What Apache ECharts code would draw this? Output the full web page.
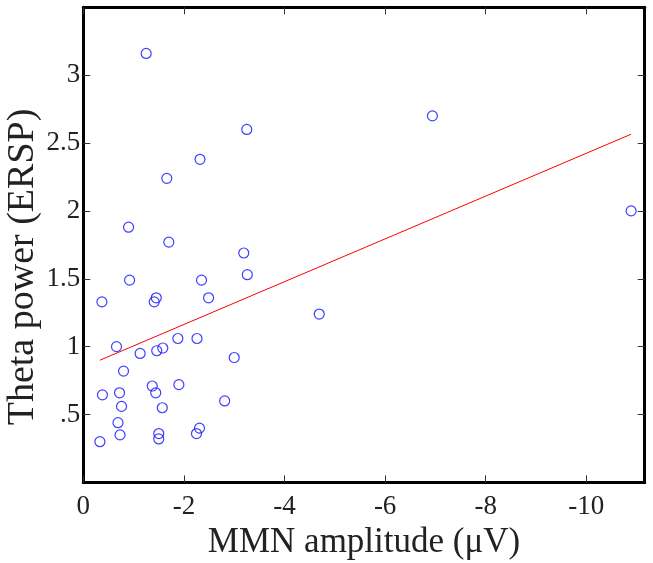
<!DOCTYPE html>
<html>
<head>
<meta charset="utf-8">
<script src="https://cdn.jsdelivr.net/npm/echarts@6/dist/echarts.min.js"></script>
<style>
  html, body { margin: 0; padding: 0; background: #fff; }
  #chart { width: 653px; height: 563px; }
</style>
</head>
<body>
<div id="chart"></div>
<script>
// MMN amplitude (µV), negative values
const mmn = [-1.25, -3.25, -2.32, -1.66, -0.90, -1.70, -3.19, -3.26, -0.92, -2.35,
             -0.37, -1.45, -1.41, -2.49, -4.69, -0.66, -1.13, -1.46, -1.58, -1.88,
             -2.26, -3.00, -0.80, -0.38, -0.72, -1.37, -1.44, -1.90, -0.76, -1.57,
             -2.81, -0.69, -0.73, -0.33, -1.50, -1.50, -2.25, -2.31, -6.94, -10.89];
// Theta power (ERSP)
const theta = [3.16, 2.60, 2.38, 2.24, 1.88, 1.77, 1.69, 1.53, 1.49, 1.49,
               1.33, 1.36, 1.33, 1.36, 1.24, 1.00, 0.95, 0.97, 0.99, 1.06,
               1.06, 0.92, 0.82, 0.645, 0.66, 0.71, 0.66, 0.72, 0.56, 0.55,
               0.60, 0.44, 0.35, 0.30, 0.36, 0.32, 0.36, 0.40, 2.70, 2.00];
// Regression line end points
const fitX = [-0.33, -10.89];
const fitY = [0.90, 2.565];

const xTicks = [0, -2, -4, -6, -8, -10];
const xTickLabels = ['0', '-2', '-4', '-6', '-8', '-10'];
const yTicks = [0.5, 1, 1.5, 2, 2.5, 3];
const yTickLabels = ['.5', '1', '1.5', '2', '2.5', '3'];

const xTitle = 'MMN amplitude (\u03bcV)';
const yTitle = 'Theta power (ERSP)';

const scatterData = mmn.map((v, i) => [v, theta[i]]);
const fitData = fitX.map((v, i) => [v, fitY[i]]);

const font = "'Liberation Serif', 'Times New Roman', serif";
const axisLine = { show: true, onZero: false, lineStyle: { color: '#000', width: 3 } };
const tickStyle = { color: '#333', width: 1 };

const chart = echarts.init(document.getElementById('chart'), null, { renderer: 'canvas' });
chart.setOption({
  animation: false,
  backgroundColor: '#fff',
  grid: { left: 83.3, right: 8.3, top: 7.3, bottom: 80.6, containLabel: false, outerBoundsMode: 'none' },
  xAxis: [
    {
      type: 'value', min: -11.16, max: 0, inverse: true, position: 'bottom',
      axisLine: axisLine,
      axisTick: { show: true, inside: true, length: 7, lineStyle: tickStyle, customValues: xTicks },
      axisLabel: {
        show: true, customValues: xTicks, margin: 11,
        fontFamily: font, fontSize: 27, color: '#222',
        formatter: v => { const i = xTicks.findIndex(t => Math.abs(t - v) < 1e-9); return i >= 0 ? xTickLabels[i] : ''; }
      },
      splitLine: { show: false },
      name: xTitle, nameLocation: 'middle', nameGap: 40,
      nameTextStyle: { fontFamily: font, fontSize: 35, color: '#222' }
    },
    {
      type: 'value', min: -11.16, max: 0, inverse: true, position: 'top',
      axisLine: axisLine,
      axisTick: { show: true, inside: true, length: 7, lineStyle: tickStyle, customValues: xTicks },
      axisLabel: { show: false },
      splitLine: { show: false }
    }
  ],
  yAxis: [
    {
      type: 'value', min: 0, max: 3.5, position: 'left',
      axisLine: axisLine,
      axisTick: { show: true, inside: true, length: 7, lineStyle: tickStyle, customValues: yTicks },
      axisLabel: {
        show: true, customValues: yTicks, margin: 3,
        fontFamily: font, fontSize: 27, color: '#222',
        formatter: v => { const i = yTicks.findIndex(t => Math.abs(t - v) < 1e-9); return i >= 0 ? yTickLabels[i] : ''; }
      },
      splitLine: { show: false }
    },
    {
      type: 'value', min: 0, max: 3.5, position: 'right',
      axisLine: axisLine,
      axisTick: { show: true, inside: true, length: 7, lineStyle: tickStyle, customValues: yTicks },
      axisLabel: { show: false },
      splitLine: { show: false }
    }
  ],
  graphic: [
    {
      type: 'text', x: 23, y: 267, rotation: Math.PI / 2,
      style: {
        text: yTitle, fontFamily: font, fontSize: 38, fill: '#222',
        align: 'center', verticalAlign: 'middle'
      }
    }
  ],
  series: [
    {
      type: 'line', data: fitData, xAxisIndex: 0, yAxisIndex: 0,
      symbol: 'none', lineStyle: { color: '#ff0000', width: 1 }, z: 2
    },
    {
      type: 'scatter', data: scatterData, xAxisIndex: 0, yAxisIndex: 0,
      symbol: 'circle', symbolSize: 10,
      itemStyle: { color: 'rgba(0,0,0,0)', borderColor: '#1010ff', borderWidth: 1.2 }, z: 3
    }
  ]
});
</script>
</body>
</html>
